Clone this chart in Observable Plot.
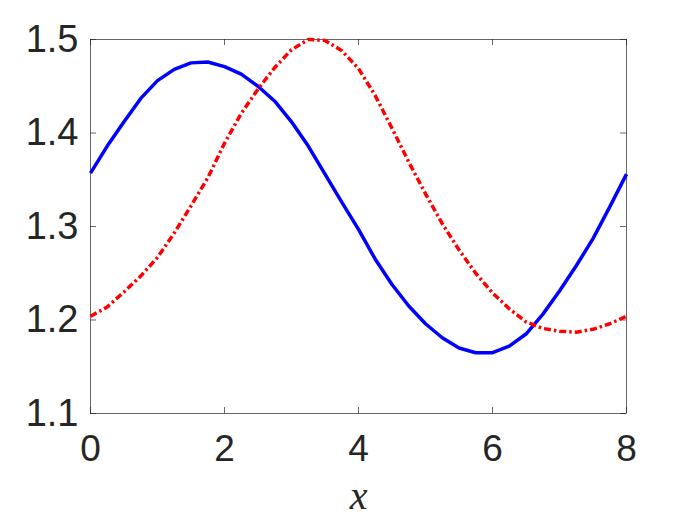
<!DOCTYPE html>
<html><head><meta charset="utf-8">
<script src="https://cdn.jsdelivr.net/npm/d3@7"></script>
<script src="https://cdn.jsdelivr.net/npm/@observablehq/plot@0.6"></script>
<style>
body{margin:0;background:#fff}
</style></head><body><div id="chart"></div>
<script>
const xs = [0, 0.25, 0.5, 0.75, 1, 1.25, 1.5, 1.75, 2, 2.25, 2.5, 2.75, 3, 3.25, 3.5, 3.75, 4,
            4.25, 4.5, 4.75, 5, 5.25, 5.5, 5.75, 6, 6.25, 6.5, 6.75, 7, 7.25, 7.5, 7.75, 8];
const blueVals = [1.357, 1.386, 1.412, 1.437, 1.456, 1.468, 1.475, 1.476, 1.471, 1.463, 1.450, 1.434,
                  1.412, 1.386, 1.356, 1.326, 1.297, 1.265, 1.238, 1.215, 1.196, 1.181, 1.170, 1.165,
                  1.165, 1.172, 1.185, 1.206, 1.231, 1.258, 1.287, 1.321, 1.356];
const redVals = [1.204, 1.214, 1.230, 1.247, 1.267, 1.293, 1.322, 1.352, 1.389, 1.421, 1.447, 1.470,
                 1.489, 1.500, 1.499, 1.488, 1.469, 1.440, 1.405, 1.369, 1.335, 1.303, 1.275, 1.250,
                 1.229, 1.212, 1.198, 1.191, 1.188, 1.187, 1.190, 1.196, 1.204];
const xTicks = [0, 2, 4, 6, 8];
const yTicks = [1.1, 1.2, 1.3, 1.4, 1.5];
const xLabel = "x";

const rows = xs.map((x, i) => ({x, blue: blueVals[i], red: redVals[i]}));

const chart = Plot.plot({
  width: 692, height: 519,
  marginLeft: 90, marginRight: 66, marginTop: 39, marginBottom: 106,
  x: {domain: [0, 8], axis: null},
  y: {domain: [1.1, 1.5], axis: null},
  style: {fontFamily: "'Liberation Sans', Arial, sans-serif", color: "#262626", background: "#fff", overflow: "visible"},
  marks: [
    Plot.tickX(xTicks, {x: d => d, insetTop: 368, stroke: "#262626", strokeWidth: 0.7}),
    Plot.tickX(xTicks, {x: d => d, insetBottom: 368, stroke: "#262626", strokeWidth: 0.7}),
    Plot.tickY(yTicks, {y: d => d, insetRight: 530, stroke: "#262626", strokeWidth: 0.7}),
    Plot.tickY(yTicks, {y: d => d, insetLeft: 530, stroke: "#262626", strokeWidth: 0.7}),
    Plot.frame({stroke: "#262626", strokeWidth: 0.7}),
    Plot.text(xTicks, {x: d => d, text: d => String(d), frameAnchor: "bottom", dy: 21, lineAnchor: "top",
      fontSize: 37, fill: "#262626"}),
    Plot.text(yTicks, {y: d => d, text: d => d3.format(".1f")(d), frameAnchor: "left", dx: -12, textAnchor: "end",
      fontSize: 38, fill: "#262626"}),
    Plot.line(rows, {x: "x", y: "blue", stroke: "#0000ff", strokeWidth: 3.5, strokeLinecap: "butt", strokeLinejoin: "miter"}),
    Plot.line(rows, {x: "x", y: "red", stroke: "#ff0000", strokeWidth: 3.5, strokeLinecap: "butt", strokeLinejoin: "miter", strokeDasharray: "7,3,2.5,3"}),
    Plot.text([xLabel], {text: d => d, frameAnchor: "bottom", dy: 95, lineAnchor: "bottom", fontSize: 40,
      fontStyle: "italic", fontFamily: "'Liberation Serif', serif", fill: "#262626"})
  ]
});
document.getElementById("chart").appendChild(chart);
</script>
</body></html>
